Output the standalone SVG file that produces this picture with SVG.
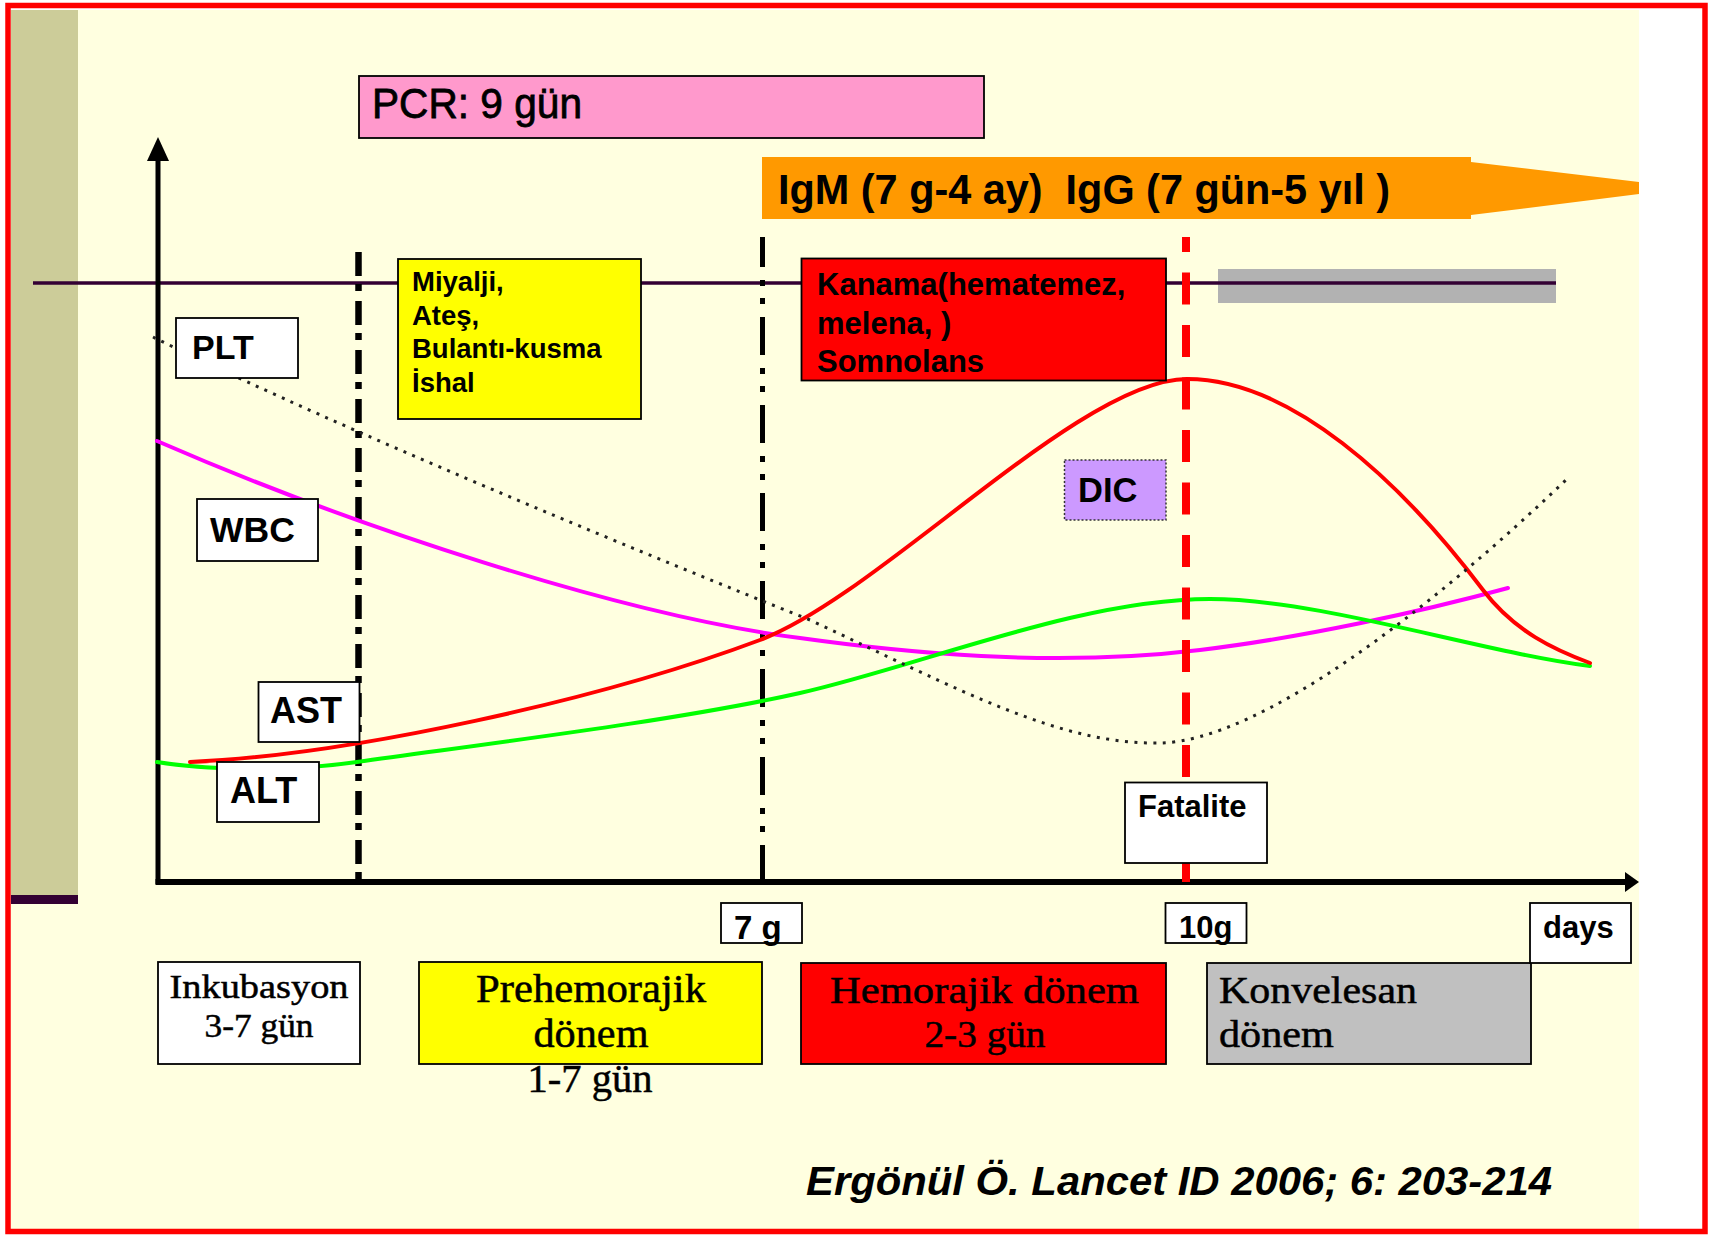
<svg xmlns="http://www.w3.org/2000/svg" width="1712" height="1235" viewBox="0 0 1712 1235">
<defs>
<style>
.bx{stroke:#000;stroke-width:1.8}
.sans{font-family:"Liberation Sans",Arial,sans-serif;fill:#000}
.b{font-weight:bold}
.ser{font-family:"Liberation Serif","Times New Roman",serif;fill:#000;stroke:#000;stroke-width:0.5}
.cv{fill:none;stroke-width:4;stroke-linecap:round}
</style>
</defs>
<g id="background">
<rect width="1712" height="1235" fill="#fff"/>
<rect x="11" y="10" width="1628" height="1220" fill="#FFFFE0"/>
<rect x="11" y="10" width="67" height="885" fill="#CCCC99"/>
<rect x="11" y="895" width="67" height="9" fill="#330033"/>
</g>
<g id="pcr">
<rect x="359" y="76" width="625" height="62" fill="#FF99CC" class="bx"/>
<text x="372" y="118" class="sans" font-size="43" textLength="210" lengthAdjust="spacingAndGlyphs" stroke="#000" stroke-width="0.8">PCR: 9 gün</text>
</g>
<g id="igm-igg">
<polygon points="762,157 1471,157 1471,162 1639,182 1639,194 1471,215 1471,219 762,219" fill="#FF9900"/>
<text x="778" y="204" class="sans b" font-size="42" textLength="612" lengthAdjust="spacingAndGlyphs" xml:space="preserve">IgM (7 g-4 ay)  IgG (7 gün-5 yıl )</text>
</g>
<g id="connectors">
<rect x="1218" y="269" width="338" height="34" fill="#B2B2B2"/>
<line x1="33" y1="283" x2="1556" y2="283" stroke="#330033" stroke-width="3.5"/>
<line x1="358.5" y1="252" x2="358.5" y2="880" stroke="#000" stroke-width="6.5" stroke-dasharray="24 8 7 10"/>
<line x1="762.5" y1="237" x2="762.5" y2="880" stroke="#000" stroke-width="5" stroke-dasharray="38 13 6 12 6 13" stroke-dashoffset="8"/>
<line x1="158" y1="158" x2="158" y2="884" stroke="#000" stroke-width="5"/>
<polygon points="158,137 147,161 169,161" fill="#000"/>
<line x1="155.5" y1="882" x2="1630" y2="882" stroke="#000" stroke-width="6"/>
<polygon points="1625,872 1639,882 1625,892" fill="#000"/>
<path class="cv" stroke="#FF00FF" d="M157,441 C350,525 620,615 800,638 C900,652 1050,668 1200,650 C1300,638 1420,612 1508,588"/>
<path class="cv" stroke="#00FF00" d="M157,762 C200,769 280,773 357,762 C500,742 680,720 800,693 C920,666 1080,599 1210,599 C1320,599 1480,652 1590,666"/>
<path class="cv" stroke="#FF0000" d="M190,762 C350,755 600,700 760,640 C880,595 1080,379 1187,379 C1290,379 1400,480 1483,590 C1515,632 1555,650 1590,663"/>
<path fill="none" stroke="#222" stroke-width="3" stroke-dasharray="3 6.5" d="M153,337 C300,410 560,520 810,620 C960,690 1060,745 1160,743 C1260,741 1430,610 1568,478"/>
<line x1="1186" y1="237" x2="1186" y2="884" stroke="#FF0000" stroke-width="8" stroke-dasharray="32 20.5" stroke-dashoffset="17"/>
</g>
<g id="prehemorrhagic-symptoms">
<rect x="398" y="259" width="243" height="160" fill="#FFFF00" class="bx"/>
<text class="sans b" font-size="27.5"><tspan x="412" y="291">Miyalji,</tspan><tspan x="412" y="324.5">Ateş,</tspan><tspan x="412" y="358">Bulantı-kusma</tspan><tspan x="412" y="391.5">İshal</tspan></text>
</g>
<g id="hemorrhagic-symptoms">
<rect x="801.5" y="258.5" width="364.5" height="122" fill="#FF0000" class="bx"/>
<text class="sans b" font-size="31"><tspan x="817" y="295">Kanama(hematemez,</tspan><tspan x="817" y="333.5">melena, )</tspan><tspan x="817" y="372">Somnolans</tspan></text>
</g>
<g id="plt">
<rect x="176" y="318" width="122" height="60" fill="#fff" class="bx"/>
<text x="192" y="359" class="sans b" font-size="34">PLT</text>
</g>
<g id="wbc">
<rect x="197" y="499" width="121" height="62" fill="#fff" class="bx"/>
<text x="210" y="542" class="sans b" font-size="35.5">WBC</text>
</g>
<g id="ast">
<rect x="258.5" y="682" width="101" height="60" fill="#fff" class="bx"/>
<text x="270" y="723" class="sans b" font-size="36">AST</text>
</g>
<g id="alt">
<rect x="217" y="762" width="102" height="60" fill="#fff" class="bx"/>
<text x="230" y="803" class="sans b" font-size="36">ALT</text>
</g>
<g id="dic">
<rect x="1064.5" y="460" width="101.5" height="60" fill="#CC99FF" stroke="#333" stroke-width="1.5" stroke-dasharray="2 2"/>
<text x="1078" y="502" class="sans b" font-size="34.5">DIC</text>
</g>
<g id="fatalite">
<rect x="1125" y="782.5" width="142" height="80.5" fill="#fff" class="bx"/>
<text x="1138" y="817" class="sans b" font-size="31">Fatalite</text>
</g>
<g id="tick-7g">
<rect x="721" y="903" width="81" height="40" fill="#fff" class="bx"/>
<text x="734" y="939" class="sans b" font-size="33">7 g</text>
</g>
<g id="tick-10g">
<rect x="1165.5" y="903" width="81" height="40" fill="#fff" class="bx"/>
<text x="1179" y="938" class="sans b" font-size="31">10g</text>
</g>
<g id="inkubasyon">
<rect x="158" y="962" width="202" height="102" fill="#fff" class="bx"/>
<text x="259" y="998" class="ser" font-size="34" text-anchor="middle" textLength="179" lengthAdjust="spacingAndGlyphs">Inkubasyon</text>
<text x="259" y="1037" class="ser" font-size="34" text-anchor="middle" textLength="109" lengthAdjust="spacingAndGlyphs">3-7 gün</text>
</g>
<g id="prehemorajik">
<rect x="419" y="962" width="343" height="102" fill="#FFFF00" class="bx"/>
<text x="591" y="1002" class="ser" font-size="39" text-anchor="middle" textLength="230" lengthAdjust="spacingAndGlyphs">Prehemorajik</text>
<text x="591" y="1047" class="ser" font-size="39" text-anchor="middle" textLength="115" lengthAdjust="spacingAndGlyphs">dönem</text>
<text x="590" y="1092" class="ser" font-size="39" text-anchor="middle" textLength="125" lengthAdjust="spacingAndGlyphs">1-7 gün</text>
</g>
<g id="hemorajik">
<rect x="801" y="963" width="365" height="101" fill="#FF0000" class="bx"/>
<text x="984.5" y="1003" class="ser" font-size="38" text-anchor="middle" textLength="309" lengthAdjust="spacingAndGlyphs">Hemorajik dönem</text>
<text x="985" y="1047" class="ser" font-size="38" text-anchor="middle" textLength="121" lengthAdjust="spacingAndGlyphs">2-3 gün</text>
</g>
<g id="konvelesan">
<rect x="1207" y="963" width="324" height="101" fill="#C0C0C0" class="bx"/>
<text x="1219" y="1003" class="ser" font-size="38" textLength="198" lengthAdjust="spacingAndGlyphs">Konvelesan</text>
<text x="1219" y="1047" class="ser" font-size="38" textLength="115" lengthAdjust="spacingAndGlyphs">dönem</text>
</g>
<g id="days">
<rect x="1530" y="903" width="101" height="60" fill="#fff" class="bx"/>
<text x="1543" y="938" class="sans b" font-size="31">days</text>
</g>
<g id="citation">
<text x="806" y="1195" class="sans b" font-style="italic" font-size="40" textLength="746" lengthAdjust="spacingAndGlyphs">Ergönül Ö. Lancet ID 2006; 6: 203-214</text>
</g>
<rect x="8" y="5.5" width="1697" height="1226" fill="none" stroke="#FF0000" stroke-width="5.5"/>
</svg>
